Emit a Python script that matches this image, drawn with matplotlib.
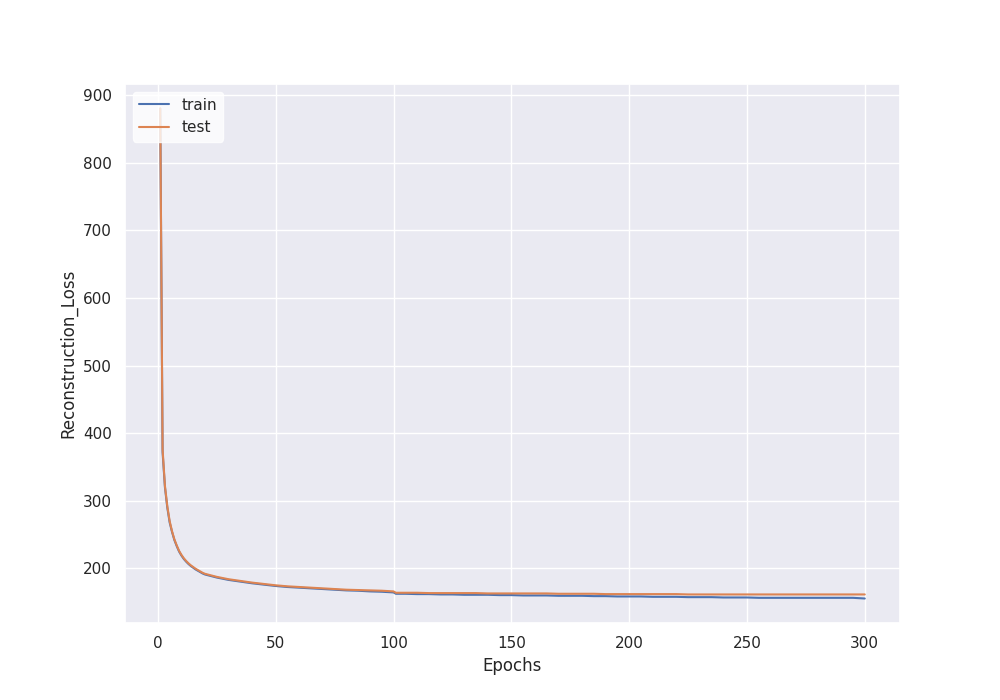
import numpy as np
import matplotlib
matplotlib.use("Agg")
import matplotlib.pyplot as plt
import seaborn as sns

# epochs: every epoch early on, then every 5
epochs = list(range(1, 21)) + list(range(25, 100, 5)) + [100, 101] + list(range(105, 301, 5))

train_loss = [880, 372, 320, 290, 268, 254, 242, 233, 225, 219,
              214, 210, 206.5, 203.5, 201, 198.5, 196.5, 194.5, 192.5, 191,
              # 25 .. 95
              186.5, 183, 180.5, 178, 176, 174, 172.5, 171.5, 170.5, 169.5,
              168.5, 167.5, 167, 166, 165.5,
              # 100, 101
              164.5, 162.5,
              # 105 .. 300
              162.5, 162, 162, 161.5, 161.5, 161, 161, 161, 160.5, 160.5,
              160, 160, 160, 159.5, 159.5, 159.5, 159, 159, 158.5, 158.5,
              158.5, 158, 158, 158, 157.5, 157.5, 157.5, 157, 157, 157,
              156.5, 156.5, 156.5, 156.5, 156.5, 156.5, 156.5, 156.5, 156.5, 155.5]

test_loss = [880, 376, 322, 292, 270, 255, 243, 234, 226, 220,
             215, 211, 207.5, 204.5, 202, 199.5, 197.5, 195.5, 193.5, 192,
             # 25 .. 95
             187.5, 184, 181.5, 179, 177, 175, 173.5, 172.5, 171.5, 170.5,
             169.5, 168.5, 168, 167.5, 167,
             # 100, 101
             166, 164,
             # 105 .. 300
             164, 164, 163.5, 163.5, 163.5, 163.5, 163.5, 163, 163, 163,
             163, 163, 163, 162.5, 162.5, 162.5, 162.5, 162, 162, 162,
             162, 162, 162, 162, 161.5, 161.5, 161.5, 161.5, 161.5, 161.5,
             161.5, 161.5, 161.5, 161.5, 161.5, 161.5, 161.5, 161.5, 161.5, 161.5]

sns.set_theme()

plt.figure(figsize=(10, 7), dpi=100)
plt.plot(epochs, train_loss, label='train')
plt.plot(epochs, test_loss, label='test')
plt.xlabel('Epochs')
plt.ylabel('Reconstruction_Loss')
plt.legend(loc='upper left', facecolor='white', edgecolor='white', framealpha=0.8)
plt.savefig('out.png')
